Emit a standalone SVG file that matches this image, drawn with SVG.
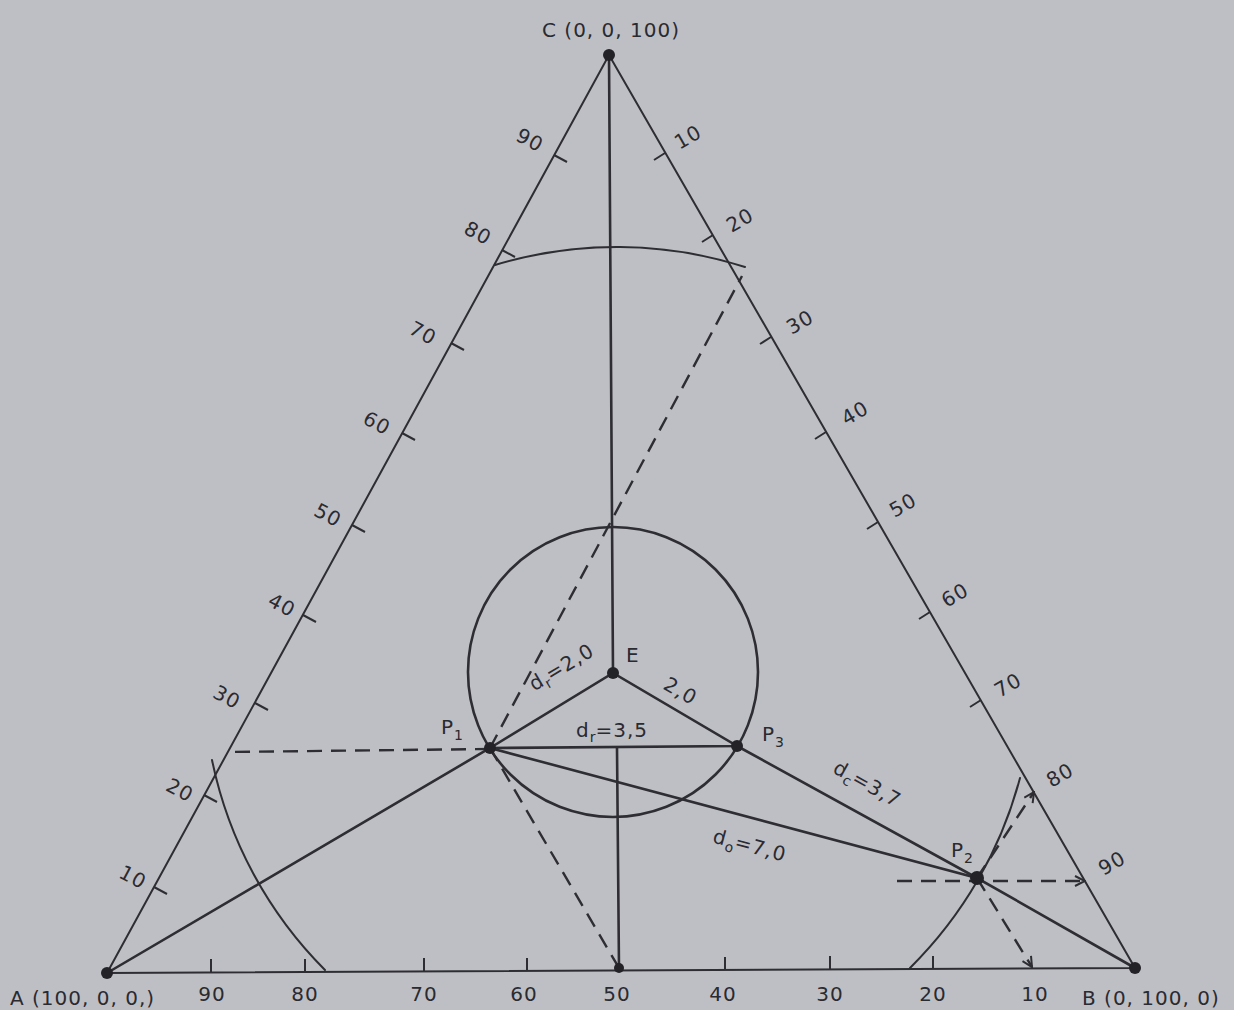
<svg xmlns="http://www.w3.org/2000/svg" width="1234" height="1010" viewBox="0 0 1234 1010">
<defs>
<style>
.ln{stroke:#2d2d33;stroke-width:2;fill:none;stroke-linecap:round}
.th{stroke-width:2.6}
.ds{stroke:#2d2d33;stroke-width:2.4;fill:none;stroke-dasharray:15 9}
.tk{stroke:#2d2d33;stroke-width:2;fill:none}
.dot{fill:#222227}
text{font-family:"DejaVu Sans","Liberation Sans",Arial,sans-serif;fill:#2a2a31;font-size:20px;letter-spacing:1px}
.m{text-anchor:middle}
.sub{font-size:14px;letter-spacing:0}
</style>
<marker id="arr" viewBox="0 0 12 12" refX="11" refY="6" markerWidth="12" markerHeight="12" markerUnits="userSpaceOnUse" orient="auto">
<path d="M1,1 L11,6 L1,11" fill="none" stroke="#2d2d33" stroke-width="2"/>
</marker>
</defs>
<rect width="1234" height="1010" fill="#bebfc4"/>

<g id="axes">
<path class="ln" d="M107,973 L609,55 L1135,968 Z"/>
<g class="tk">
<path d="M154,887 l13,7 M204,795 l13,7 M255,703 l13,7 M303,615 l13,7 M352,525 l13,7 M402,433 l13,7 M451,343 l13,7 M502,250 l13,7 M554,155 l13,7"/>
<path d="M665,153 l-11,7 M713,235 l-11,7 M771,337 l-11,7 M826,432 l-11,7 M878,522 l-11,7 M930,612 l-11,7 M981,700 l-11,7"/>
<path d="M211,972 v-13 M305,972 v-13 M424,971 v-13 M527,971 v-13 M725,970 v-13 M830,969 v-13 M933,969 v-13"/>
</g>
<g class="m">
<text transform="translate(133,877) rotate(28)" dy="7">10</text>
<text transform="translate(180,790) rotate(28)" dy="7">20</text>
<text transform="translate(227,697) rotate(28)" dy="7">30</text>
<text transform="translate(282,605) rotate(28)" dy="7">40</text>
<text transform="translate(328,515) rotate(28)" dy="7">50</text>
<text transform="translate(377,423) rotate(28)" dy="7">60</text>
<text transform="translate(423,333) rotate(28)" dy="7">70</text>
<text transform="translate(478,233) rotate(28)" dy="7">80</text>
<text transform="translate(530,140) rotate(28)" dy="7">90</text>
<text transform="translate(688,137) rotate(-30)" dy="7">10</text>
<text transform="translate(740,220) rotate(-30)" dy="7">20</text>
<text transform="translate(800,322) rotate(-30)" dy="7">30</text>
<text transform="translate(855,413) rotate(-30)" dy="7">40</text>
<text transform="translate(903,505) rotate(-30)" dy="7">50</text>
<text transform="translate(955,595) rotate(-30)" dy="7">60</text>
<text transform="translate(1008,685) rotate(-30)" dy="7">70</text>
<text transform="translate(1060,775) rotate(-30)" dy="7">80</text>
<text transform="translate(1112,863) rotate(-30)" dy="7">90</text>
<text x="212" y="1001">90</text>
<text x="305" y="1001">80</text>
<text x="424" y="1001">70</text>
<text x="524" y="1001">60</text>
<text x="617" y="1001">50</text>
<text x="723" y="1001">40</text>
<text x="830" y="1001">30</text>
<text x="933" y="1001">20</text>
<text x="1035" y="1001">10</text>
</g>
</g>

<g id="arcs">
<circle class="ln th" cx="613" cy="672" r="145"/>
<path class="ln" d="M495,265 A422,422 0 0 1 745,267"/>
<path class="ln" d="M212,760 A416,416 0 0 0 325,970"/>
<path class="ln" d="M910,968 A418,418 0 0 0 1020,778"/>
</g>

<g id="connectors">
<path class="ln th" d="M609,55 L613,673"/>
<path class="ln th" d="M490,748 L613,673 L737,746 Z"/>
<path class="ln th" d="M617,748 L619,968"/>
<path class="ln th" d="M107,973 L490,748 L977,878 L1135,968"/>
<path class="ln th" d="M737,746 L977,878"/>
<path class="ds" d="M490,748 L742,276"/>
<path class="ds" d="M490,749 L226,752"/>
<path class="ds" d="M490,748 L619,968"/>
<path class="ds" d="M897,881 L1085,881" marker-end="url(#arr)"/>
<path class="ds" d="M977,878 L1034,792" marker-end="url(#arr)"/>
<path class="ds" d="M977,878 L1032,967" marker-end="url(#arr)"/>
</g>

<g id="node-A"><circle class="dot" cx="107" cy="973" r="6"/><text x="10" y="1005">A (100, 0, 0,)</text></g>
<g id="node-B"><circle class="dot" cx="1135" cy="968" r="6"/><text x="1082" y="1005">B (0, 100, 0)</text></g>
<g id="node-C"><circle class="dot" cx="609" cy="55" r="6"/><text class="m" x="611" y="37">C (0, 0, 100)</text></g>
<g id="node-E"><circle class="dot" cx="613" cy="673" r="6"/><text x="626" y="662">E</text></g>
<g id="node-P1"><circle class="dot" cx="490" cy="748" r="6"/><text x="441" y="734" font-size="23">P<tspan class="sub" dy="6">1</tspan></text></g>
<g id="node-P3"><circle class="dot" cx="737" cy="746" r="6"/><text x="762" y="741" font-size="23">P<tspan class="sub" dy="6">3</tspan></text></g>
<g id="node-P2"><circle class="dot" cx="977" cy="878" r="7"/><text x="951" y="857" font-size="23">P<tspan class="sub" dy="6">2</tspan></text></g>
<g id="node-M"><circle class="dot" cx="619" cy="968" r="5"/></g>

<g id="labels" class="m">
<text transform="translate(565,673) rotate(-31)" font-size="21">d<tspan class="sub" dy="5">r</tspan><tspan dy="-5">=2,0</tspan></text>
<text transform="translate(677,697) rotate(30)" font-size="21">2,0</text>
<text x="612" y="737" font-size="21">d<tspan class="sub" dy="5">r</tspan><tspan dy="-5">=3,5</tspan></text>
<text transform="translate(748,852) rotate(15)" font-size="21">d<tspan class="sub" dy="5">o</tspan><tspan dy="-5">=7,0</tspan></text>
<text transform="translate(864,790) rotate(29)" font-size="21">d<tspan class="sub" dy="5">c</tspan><tspan dy="-5">=3,7</tspan></text>
</g>
</svg>
